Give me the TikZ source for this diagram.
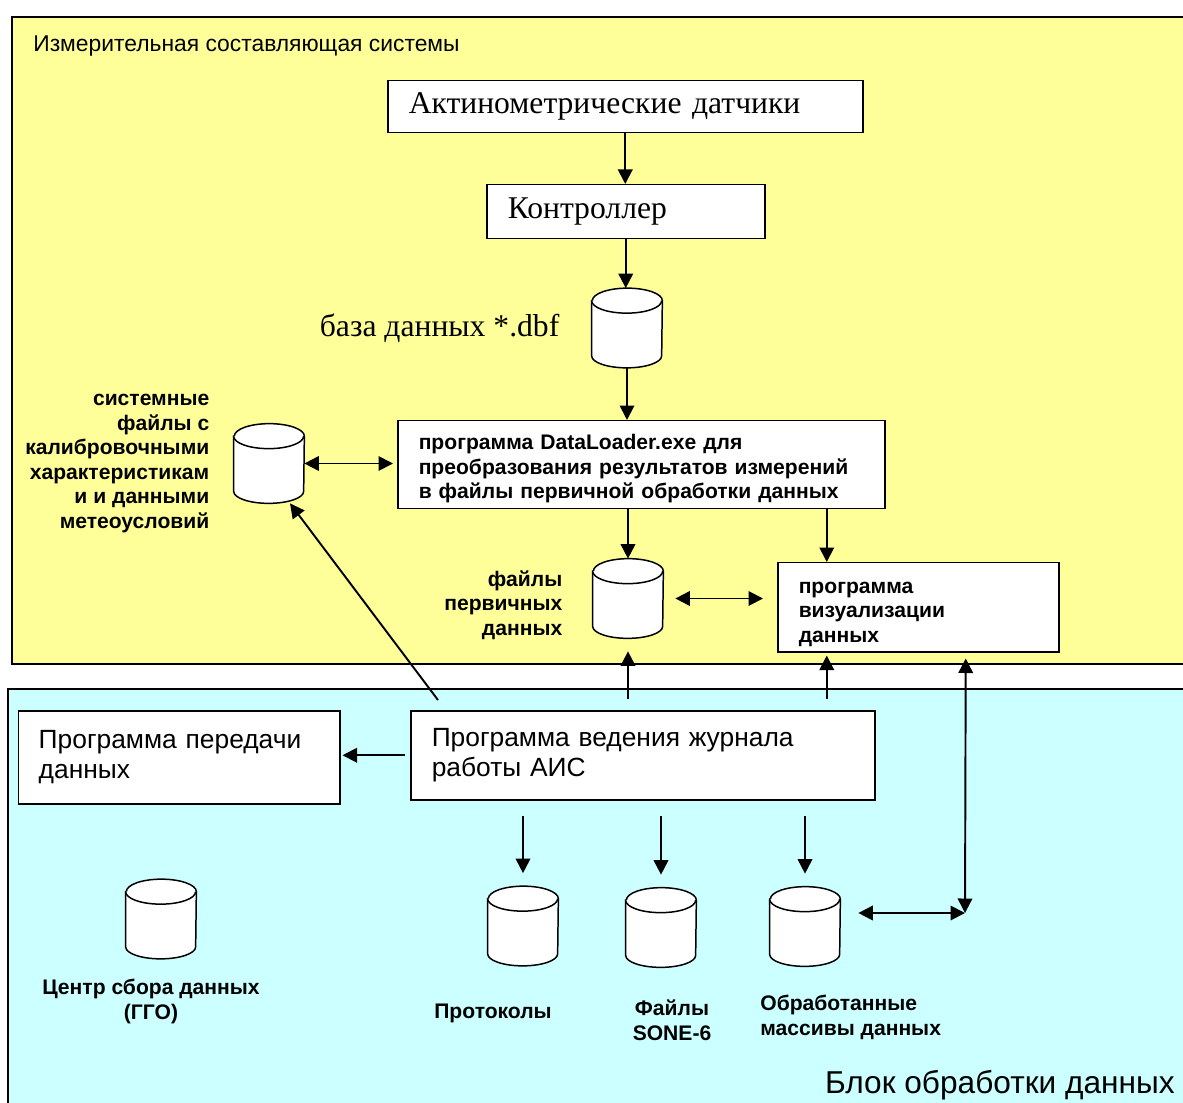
\documentclass[tikz,border=0pt]{standalone}
\usepackage{fontspec}
\setmainfont{Liberation Sans}
\newfontfamily\timesfont{Liberation Serif}
\usetikzlibrary{
	arrows.meta,
	positioning,
	calc
}
\definecolor{zoneyellow}{HTML}{FFFF99}
\definecolor{zonecyan}{HTML}{CCFFFF}

\begin{document}
\begin{tikzpicture}[
		x=1mm, y=-1mm,
		>={Triangle[length=2.9mm,width=2.9mm]},
		zone/.style={
			draw,
			line width=1.1pt,
			anchor=north west,
			inner sep=0pt
		},
		block/.style={
			draw,
			fill=white,
			line width=0.85pt,
			anchor=north west,
			inner xsep=4.2mm,
			inner ysep=0pt,
			align=left
		},
		headroom/.style={
			execute at begin node={\rule{0pt}{#1}}
		},
		store/.style={
			rectangle,
			minimum width=14mm,
			minimum height=15.8mm,
			inner sep=0pt
		},
		drum/.style={
			draw,
			fill=white,
			line width=0.85pt
		},
		caption/.style={
			inner sep=0pt,
			font=\fontsize{12}{14}\selectfont\bfseries
		},
		link/.style={
			->,
			line width=1.1pt
		},
		duplex/.style={
			<->,
			line width=1.1pt
		}
		]
		\useasboundingbox (0,0) rectangle (236.6,220.4);
		
		% Zones
		\node[zone, fill=zoneyellow, minimum width=237.8mm, minimum height=129.4mm] (measure) at (2.2,3.2) {};
		\node[zone, fill=zonecyan, minimum width=238.6mm, minimum height=90mm] (processing) at (1.4,137.6) {};
		\node[anchor=base west, inner sep=0pt, font=\fontsize{13}{16}\selectfont] (measuretitle) at (6.6,10.4) {Измерительная составляющая системы};
		\node[anchor=base east, inner sep=0pt, font=\fontsize{18}{21}\selectfont] (processingtitle) at (235,218.6) {Блок обработки данных};
		
		% Measuring part
		\node[block, minimum height=10.4mm, text width=86.6mm, font=\timesfont\fontsize{18}{21}\selectfont] (sensors) at (77.4,16) {Актинометрические датчики};
		\node[block, minimum height=10.8mm, text width=47.2mm, font=\timesfont\fontsize{18}{21}\selectfont] (ctrl) at (97.2,36.8) {Контроллер};
		\node[store] (dbf) at (125.4,65.6) {};
		\node[left=6.4mm of dbf, inner sep=0pt, font=\timesfont\fontsize{18}{21}\selectfont] (dbflabel) {база данных *.dbf};
		\node[block, headroom=4.6mm, minimum height=17.6mm, text width=89mm, font=\fontsize{12}{14}\selectfont\bfseries] (loader) at (79.4,84) {программа DataLoader.exe для\\преобразования результатов измерений\\в файлы первичной обработки данных};
		\node[store] (sys) at (53.8,92.7) {};
		\node[caption, left=4.8mm of sys, align=right] (syslabel) {системные\\файлы с\\калибровочными\\характеристикам\\и и данными\\метеоусловий};
		\node[store] (primary) at (125.6,119.7) {};
		\node[caption, left=6mm of primary, align=right, yshift=-1.3mm] (primarylabel) {файлы\\первичных\\данных};
		\node[block, headroom=5mm, minimum height=17.8mm, text width=47.8mm, font=\fontsize{12}{14}\selectfont\bfseries] (vis) at (155.4,112.4) {программа\\визуализации\\данных};
		
		% Processing part
		\node[block, minimum height=18.6mm, text width=56.2mm, inner xsep=4mm, font=\fontsize{15}{17}\selectfont] (transfer) at (3.6,142) {Программа передачи\\данных};
		\node[block, minimum height=17.8mm, text width=84.4mm, font=\fontsize{15}{17}\selectfont] (journal) at (82,142) {Программа ведения журнала\\работы АИС};
		\node[store] (centre) at (32.2,183.8) {};
		\node[caption, below=4mm of centre, xshift=-2mm, align=center] (centrelabel) {Центр сбора данных\\(ГГО)};
		\node[store] (prot) at (104.6,185.2) {};
		\node[caption, below=7.5mm of prot, xshift=-6mm] (protlabel) {Протоколы};
		\node[store] (sone) at (132.2,185.5) {};
		\node[caption, below=6.4mm of sone, xshift=2.2mm, align=center] (sonelabel) {Файлы\\SONE-6};
		\node[store] (proc) at (161,185.3) {};
		\node[caption, anchor=north west, align=left] (proclabel) at (152,199) {Обработанные\\массивы данных};
		\coordinate (corner) at (193,182.6);
		
		% Storage drums
		\foreach \db in {dbf,sys,primary,centre,prot,sone,proc}{
			\draw[drum] ([yshift=-2.5mm]\db.north west) -- ([yshift=2.4mm]\db.south west)
			arc[start angle=180, end angle=360, x radius=7mm, y radius=2.4mm]
			-- ([yshift=-2.5mm]\db.north east)
			arc[start angle=0, end angle=180, x radius=7mm, y radius=2.5mm] -- cycle;
			\draw[drum] ([yshift=-2.5mm]\db.north west)
			arc[start angle=180, end angle=360, x radius=7mm, y radius=2.5mm];
		}
		
		% Connections
		\draw[link] (sensors.south) -- (sensors.south |- ctrl.north);
		\draw[link] (ctrl.south) -- (ctrl.south |- dbf.north);
		\draw[link] (dbf.south) -- (dbf.south |- loader.north);
		\draw[duplex, shorten >=0.8mm] (sys.east) -- (sys.east -| loader.west);
		\draw[link] (primary.north |- loader.south) -- (primary.north);
		\draw[link] ([xshift=-18.3mm]vis.north |- loader.south) -- ([xshift=-18.3mm]vis.north);
		\draw[duplex, shorten <=2.4mm, shorten >=2.8mm] (primary.east) -- (primary.east -| vis.west);
		\draw[link, shorten <=2.2mm, shorten >=2.6mm] (primary.south |- journal.north) -- (primary.south);
		\draw[link, shorten <=2.2mm, shorten >=0.6mm] ([xshift=-18.3mm]vis.south |- journal.north) -- ([xshift=-18.3mm]vis.south);
		\draw[link, shorten <=2.5mm] ([xshift=7.1mm]journal.north west) -- ([xshift=4.2mm]sys.south);
		\draw[link, shorten <=1mm, shorten >=0.4mm] (journal.west) -- (journal.west -| transfer.east);
		\foreach \db in {prot,sone,proc}
		\draw[link, shorten <=3mm, shorten >=2.6mm] (\db.north |- journal.south) -- (\db.north);
		\draw[duplex, shorten <=1.2mm] ([xshift=9.5mm]vis.south) -- (corner);
		\draw[duplex, shorten <=3.6mm] ([yshift=2.7mm]proc.east) -- (corner);
		
	\end{tikzpicture}
\end{document}
